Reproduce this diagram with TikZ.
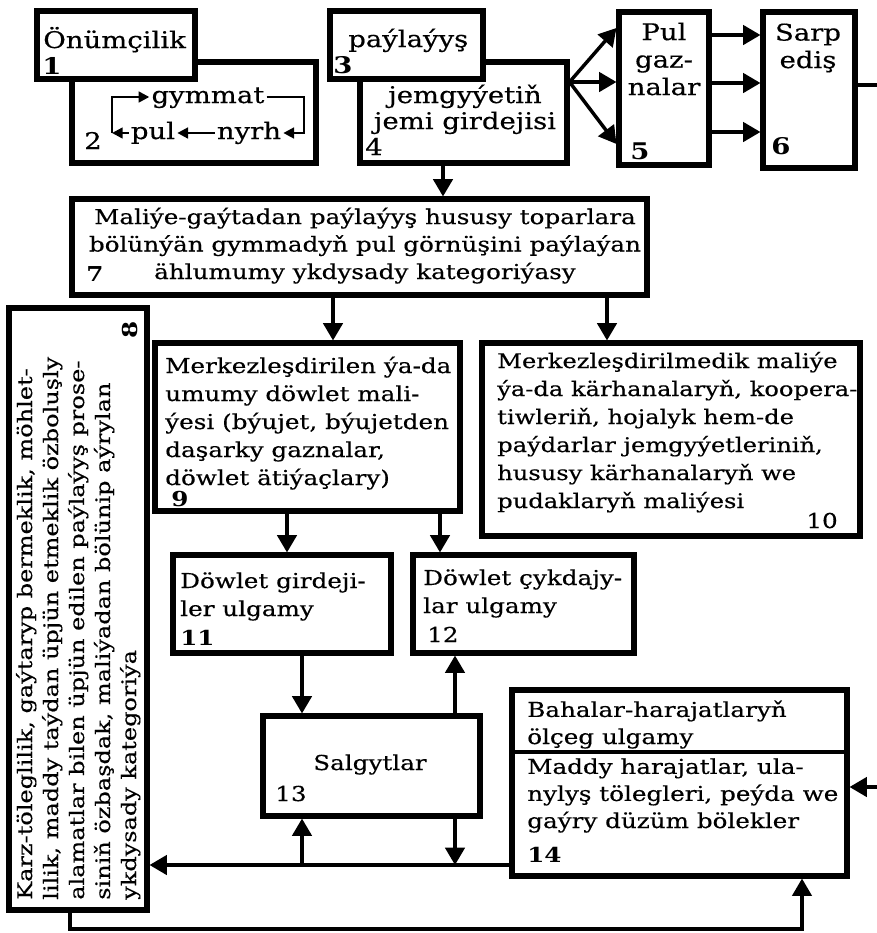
\documentclass[tikz,border=0pt]{standalone}
\usepackage{fontspec}
\setmainfont{DejaVu Serif}[FakeStretch=1.2,UprightFeatures={FakeBold=0.4}]
\usetikzlibrary{arrows.meta,fit}
\begin{document}
\begin{tikzpicture}[x=0.75pt,y=-0.75pt,
  box/.style={draw,line width=3.8pt,inner sep=0pt,fill=white},
  conn/.style={line width=2.6pt},
  arr/.style={-{Triangle[length=13pt,width=14.5pt]}},
  sarr/.style={line width=1.8pt,-{Triangle[length=8pt,width=8pt]}},
  txt/.style={inner sep=0pt,align=left,anchor=base west,font=\fontsize{15.4}{20.6}\selectfont},
  ctxt/.style={inner sep=0pt,align=center,anchor=base,font=\fontsize{15.4}{20.6}\selectfont},
  big/.style={font=\fontsize{17.2}{19.5}\selectfont},
  bignum/.style={inner sep=0pt,anchor=base west,font=\fontsize{17.2}{19.5}\selectfont\bfseries},
  num/.style={inner sep=0pt,anchor=base west,font=\fontsize{15.4}{20.6}\selectfont\bfseries},
  rnum/.style={inner sep=0pt,anchor=base west,font=\fontsize{15.4}{20.6}\selectfont}]
\fill[white] (0,0) rectangle (877,933);
\useasboundingbox (0,0) rectangle (877,933);
% boxes
\node[box,fit={(72,62)(316,163)}] (b2) {};
\node[box,fit={(37,11)(195,79)}] (b1) {};
\node[box,fit={(360,62)(567,163)}] (b4) {};
\node[box,fit={(330,11)(483,79)}] (b3) {};
\node[box,fit={(619,12)(709,165)}] (b5) {};
\node[box,fit={(763,12)(855,168)}] (b6) {};
\node[box,fit={(72,199)(647,295)}] (b7) {};
\node[box,fit={(9,308)(147,910)}] (b8) {};
\node[box,fit={(155,343)(460,511)}] (b9) {};
\node[box,fit={(482,343)(860,536)}] (b10) {};
\node[box,fit={(173,555)(391,653)}] (b11) {};
\node[box,fit={(413,555)(634,653)}] (b12) {};
\node[box,fit={(263,716)(480,816)}] (b13) {};
\node[box,fit={(512,690)(847,876)}] (b14) {};
\coordinate (y752) at (0,752);
\draw[line width=2.4pt] (b14.west |- y752) -- (b14.east |- y752);
% texts (multi-line nodes are placed by the baseline of their last line)
\node[txt,big] (t1) at (43,48) {Önümçilik};
\node[bignum] (n1) at (42,74) {1};
\node[ctxt,big,inner sep=1.5pt] (gym) at (208,103) {gymmat};
\node[ctxt,big,inner sep=1.5pt] (pul) at (153,139) {pul};
\node[ctxt,big,inner sep=1.5pt] (nyrh) at (249,139) {nyrh};
\node[rnum,big] (n2) at (84,149) {2};
\node[txt,big] (t3) at (348,47) {paýlaýyş};
\node[bignum] (n3) at (333,73) {3};
\node[ctxt,big] (t4) at (465,129) {jemgyýetiň\\jemi girdejisi};
\node[rnum,big] (n4) at (365,155) {4};
\node[ctxt,font=\fontsize{17.2}{20.6}\selectfont] (t5) at (664,95) {Pul\\gaz-\\nalar};
\node[bignum] (n5) at (630,159) {5};
\node[ctxt,font=\fontsize{17.2}{20.6}\selectfont] (t6) at (808,68) {Sarp\\ediş};
\node[bignum] (n6) at (771,154) {6};
\node[ctxt] (t7) at (365,279) {Maliýe-gaýtadan paýlaýyş hususy toparlara\\bölünýän gymmadyň pul görnüşini paýlaýan\\ählumumy ykdysady kategoriýasy};
\node[num] (n7) at (86,281) {7};
\node[txt,rotate=90,font=\fontsize{15}{19.5}\selectfont] (t8) at (136,900) {Karz-töleglilik, gaýtaryp bermeklik, möhlet-\\lilik, maddy taýdan üpjün etmeklik özboluşly\\alamatlar bilen üpjün edilen paýlaýyş prose-\\siniň özbaşdak, maliýadan bölünip aýrylan\\ykdysady kategoriýa};
\node[num,rotate=90,anchor=center] (n8) at (130,330) {8};
\node[txt,font=\fontsize{15.4}{21}\selectfont] (t9) at (165,485) {Merkezleşdirilen ýa-da\\umumy döwlet mali-\\ýesi (býujet, býujetden\\daşarky gaznalar,\\döwlet ätiýaçlary)};
\node[num] (n9) at (171,506) {9};
\node[txt,font=\fontsize{15.1}{21}\selectfont] (t10) at (497,508) {Merkezleşdirilmedik maliýe\\ýa-da kärhanalaryň, koopera-\\tiwleriň, hojalyk hem-de\\paýdarlar jemgyýetleriniň,\\hususy kärhanalaryň we\\pudaklaryň maliýesi};
\node[rnum,anchor=base east] (n10) at (838,528) {10};
\node[txt,font=\fontsize{15.4}{21}\selectfont] (t11) at (180,616) {Döwlet girdeji-\\ler ulgamy};
\node[num] (n11) at (180,645) {11};
\node[txt,font=\fontsize{15.4}{21}\selectfont] (t12) at (423,613) {Döwlet çykdajy-\\lar ulgamy};
\node[rnum] (n12) at (427,642) {12};
\node[ctxt] (t13) at (370,770) {Salgytlar};
\node[rnum] (n13) at (275,801) {13};
\node[txt,font=\fontsize{15.4}{20.3}\selectfont] (t14a) at (527,744) {Bahalar-harajatlaryň\\ölçeg ulgamy};
\node[txt,font=\fontsize{15.4}{20.3}\selectfont] (t14b) at (527,828) {Maddy harajatlar, ula-\\nylyş tölegleri, peýda we\\gaýry düzüm bölekler};
\node[num] (n14) at (527,862) {14};
% box 2 cycle
\coordinate (r97) at (0,97);
\coordinate (r133) at (0,133);
\coordinate (cl) at (112,133);
\coordinate (cr) at (304,97);
\draw[sarr] (pul.west |- r133) -- (cl);
\draw[sarr] (cl) |- (gym.west |- r97);
\draw[sarr] (gym.east |- r97) -| (cr |- r133) -- (nyrh.east |- r133);
\draw[sarr] (nyrh.west |- r133) -- (pul.east |- r133);
% fan 4 -> 5
\coordinate (fy) at (0,82);
\coordinate (f1) at (0,28);
\coordinate (f2) at (0,82);
\coordinate (f3) at (0,144);
\draw[conn,arr] (b4.east |- fy) -- (b5.west |- f1);
\draw[conn,arr] (b4.east |- fy) -- (b5.west |- f2);
\draw[conn,arr] (b4.east |- fy) -- (b5.west |- f3);
% 5 -> 6
\coordinate (g1) at (0,35);
\coordinate (g2) at (0,83);
\coordinate (g3) at (0,132);
\draw[conn,arr] (b5.east |- g1) -- (b6.west |- g1);
\draw[conn,arr] (b5.east |- g2) -- (b6.west |- g2);
\draw[conn,arr] (b5.east |- g3) -- (b6.west |- g3);
\coordinate (out6) at (877,85);
\draw[conn] (b6.east |- out6) -- (out6);
% vertical flows
\coordinate (x443) at (443,0);
\coordinate (x333) at (333,0);
\coordinate (x607) at (607,0);
\coordinate (x287) at (287,0);
\coordinate (x440) at (440,0);
\coordinate (x302) at (302,0);
\coordinate (x455) at (455,0);
\draw[conn,arr] (b4.south -| x443) -- (b7.north -| x443);
\draw[conn,arr] (b7.south -| x333) -- (b9.north -| x333);
\draw[conn,arr] (b7.south -| x607) -- (b10.north -| x607);
\draw[conn,arr] (b9.south -| x287) -- (b11.north -| x287);
\draw[conn,arr] (b9.south -| x440) -- (b12.north -| x440);
\draw[conn,arr] (b11.south -| x302) -- (b13.north -| x302);
\draw[conn,arr] (b13.north -| x455) -- (b12.south -| x455);
% bottom bus
\coordinate (h) at (0,865);
\coordinate (j1) at (302,865);
\coordinate (j2) at (455,865);
\draw[conn,arr] (b14.west |- h) -- (b8.east |- h);
\draw[conn,arr] (j1) -- (b13.south -| j1);
\draw[conn,arr] (b13.south -| j2) -- (j2);
\coordinate (in14) at (877,787);
\draw[conn,arr] (in14) -- (b14.east |- in14);
\coordinate (loopL) at (70,929);
\coordinate (loopR) at (802,929);
\draw[line width=2.3pt,arr] (b8.south -| loopL) -- (loopL) -- (loopR) -- (b14.south -| loopR);
\end{tikzpicture}
\end{document}
